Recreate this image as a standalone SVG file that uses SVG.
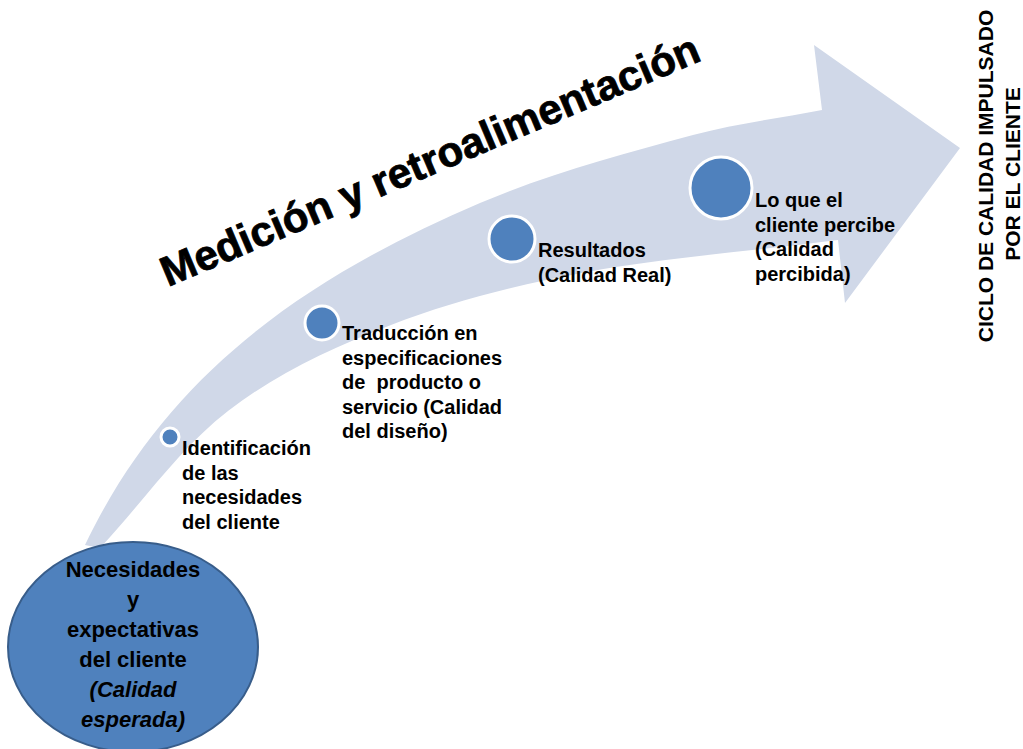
<svg xmlns="http://www.w3.org/2000/svg" width="1023" height="749" viewBox="0 0 1023 749">
  <style>
    .band { fill: #D0D8E8; stroke: none; }
    .dot { fill: #4F81BD; stroke: #FFFFFF; stroke-width: 3; }
    .start { fill: #4F81BD; stroke: #385D8A; stroke-width: 2; }
    .lbl { font-family: "Liberation Sans", Arial, sans-serif; font-weight: bold; font-size: 20px; fill: #000000; }
    .inner { font-family: "Liberation Sans", Arial, sans-serif; font-weight: bold; font-size: 22px; fill: #000000; text-anchor: middle; }
    .title { font-family: "Liberation Sans", Arial, sans-serif; font-weight: bold; font-size: 42px; fill: #000000; stroke: #000000; stroke-width: 0.8; }
    .side { font-family: "Liberation Sans", Arial, sans-serif; font-weight: bold; font-size: 21px; fill: #000000; text-anchor: middle; }
  </style>

  <rect width="1023" height="749" fill="#FFFFFF"/>

  <!-- curved flow arrow rising to the right -->
  <g id="connectors">
    <path class="band" d="M85,545
      C166.7,374 305.4,277.7 480,203
      C548.5,173.7 621.1,154.5 693,135
      C735.3,123.5 779,118.3 822,110
      L814,45 L960,148 L845,303 L838,240
      C754,251 661,258 587,272
      C512,286 451,302 391,325
      C331,348 276,374 228,411
      C180,448 143,502 100,548 Z"/>
  </g>

  <!-- title along the arrow -->
  <g id="title">
    <text class="title" transform="translate(168,287) rotate(-23)">Medición y retroalimentación</text>
  </g>

  <!-- starting point -->
  <g id="node-expectativas">
    <ellipse class="start" cx="133" cy="647" rx="125" ry="105"/>
    <text class="inner" x="133" y="577">Necesidades</text>
    <text class="inner" x="133" y="607">y</text>
    <text class="inner" x="133" y="637">expectativas</text>
    <text class="inner" x="133" y="667">del cliente</text>
    <text class="inner" x="133" y="697" font-style="italic">(Calidad</text>
    <text class="inner" x="133" y="727" font-style="italic">esperada)</text>
  </g>

  <g id="node-identificacion">
    <circle class="dot" cx="170" cy="437" r="9"/>
    <text class="lbl" x="182" y="455">Identificación</text>
    <text class="lbl" x="182" y="479.5">de las</text>
    <text class="lbl" x="182" y="504">necesidades</text>
    <text class="lbl" x="182" y="528.5">del cliente</text>
  </g>

  <g id="node-traduccion">
    <circle class="dot" cx="322" cy="323" r="17"/>
    <text class="lbl" x="342" y="340">Traducción en</text>
    <text class="lbl" x="342" y="364.5">especificaciones</text>
    <text class="lbl" x="342" y="389" xml:space="preserve">de  producto o</text>
    <text class="lbl" x="342" y="413.5">servicio (Calidad</text>
    <text class="lbl" x="342" y="438">del diseño)</text>
  </g>

  <g id="node-resultados">
    <circle class="dot" cx="512" cy="239" r="23"/>
    <text class="lbl" x="538" y="257">Resultados</text>
    <text class="lbl" x="538" y="281.5">(Calidad Real)</text>
  </g>

  <g id="node-percepcion">
    <circle class="dot" cx="721" cy="188" r="31"/>
    <text class="lbl" x="755" y="207">Lo que el</text>
    <text class="lbl" x="755" y="231.5">cliente percibe</text>
    <text class="lbl" x="755" y="256">(Calidad</text>
    <text class="lbl" x="755" y="280.5">percibida)</text>
  </g>

  <!-- vertical caption -->
  <g id="caption">
    <text class="side" transform="translate(993,176) rotate(-90)">CICLO DE CALIDAD IMPULSADO</text>
    <text class="side" transform="translate(1020,174) rotate(-90)">POR EL CLIENTE</text>
  </g>
</svg>
